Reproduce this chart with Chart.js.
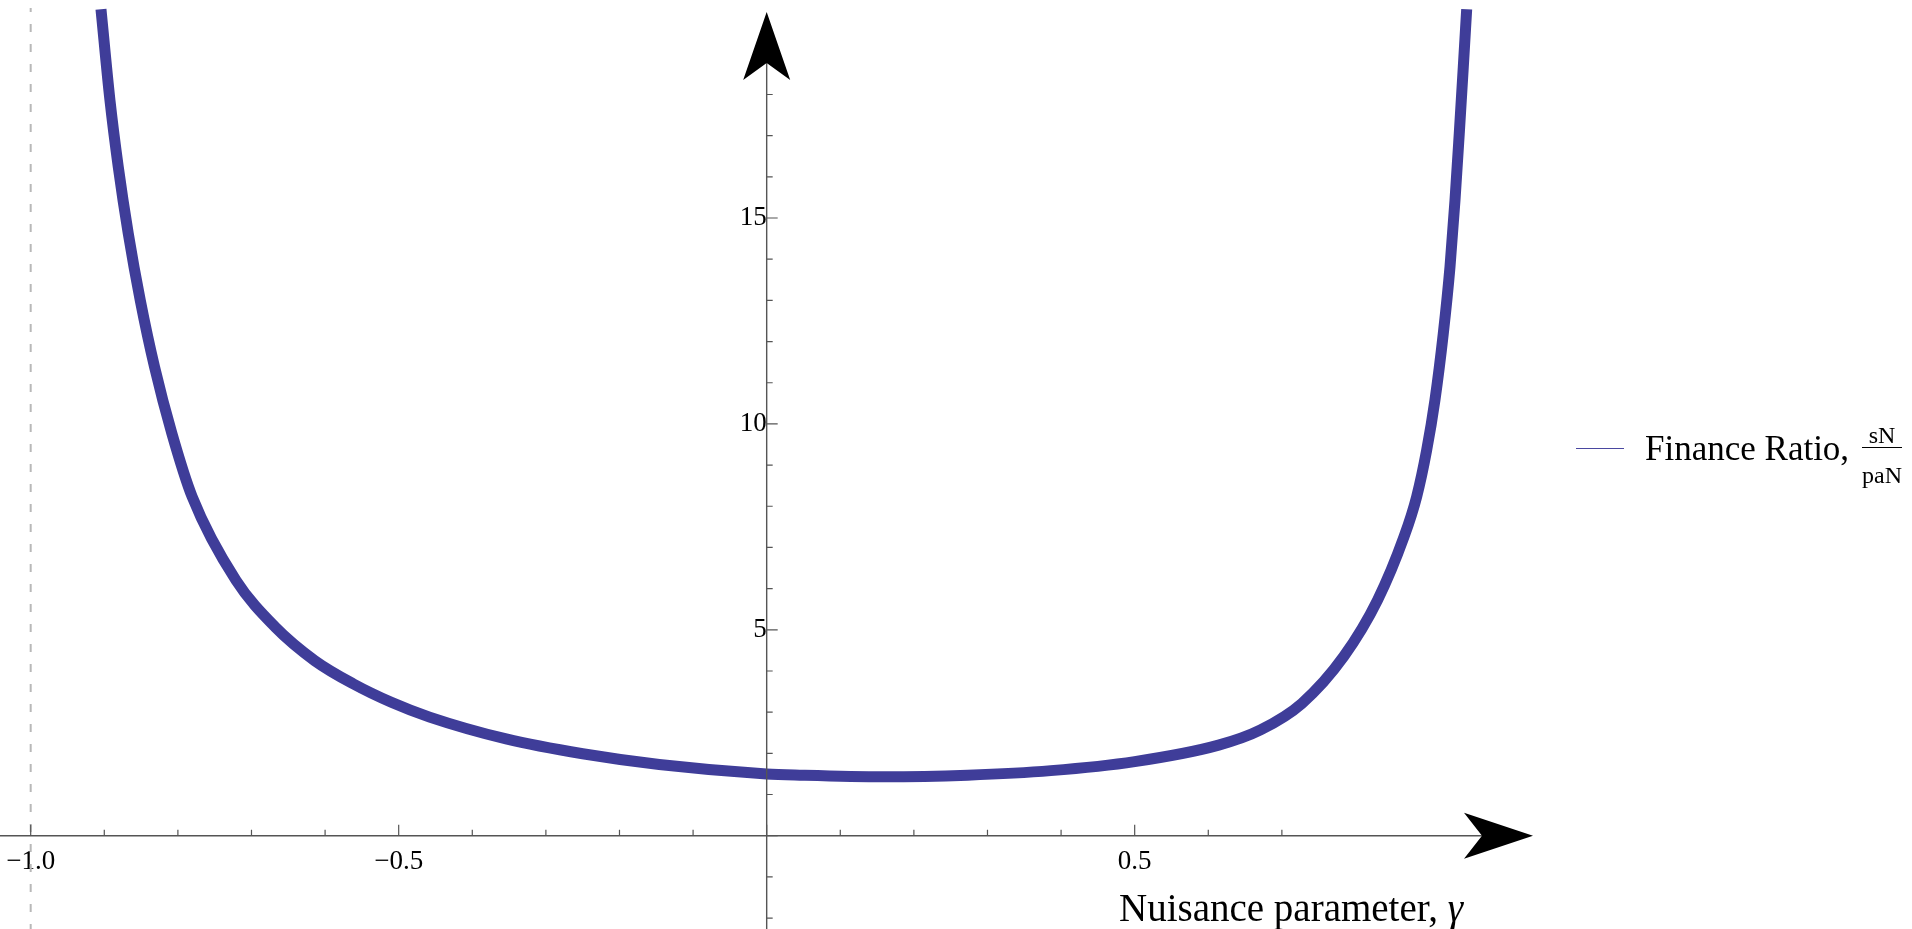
<!DOCTYPE html>
<html>
<head>
<meta charset="utf-8">
<title>Finance Ratio vs Nuisance parameter</title>
<script src="https://cdn.jsdelivr.net/npm/chart.js@4.4.1/dist/chart.umd.min.js"></script>
<style>
  html, body { margin: 0; padding: 0; background: #fff; }
  #wrap {
    position: relative; width: 1912px; height: 929px; overflow: hidden;
    font-family: 'Liberation Serif', 'Times New Roman', serif; color: #000;
  }
  #chart { position: absolute; left: 0; top: 0; }
  .txt { position: absolute; white-space: nowrap; }
  #xtitle { left: 1119px; top: 888px; font-size: 39px; line-height: 39px; }
  #leg-line { position: absolute; left: 1576px; top: 448px; width: 48px; height: 0; border-top: 1.3px solid #4a48a0; }
  #leg-text { left: 1645px; top: 431px; font-size: 35px; line-height: 35px; }
  .frac { font-size: 24px; line-height: 24px; width: 40px; text-align: center; }
  #leg-num { left: 1862px; top: 423px; }
  #leg-bar { position: absolute; left: 1862px; top: 446.5px; width: 40px; height: 0; border-top: 1.2px solid #000; }
  #leg-den { left: 1862px; top: 463px; }
</style>
</head>
<body>
<div id="wrap">
  <canvas id="chart" width="1912" height="929"></canvas>
  <div id="xtitle" class="txt">Nuisance parameter, <i>γ</i></div>
  <div id="leg-line"></div>
  <div id="leg-text" class="txt">Finance Ratio,</div>
  <div id="leg-num" class="txt frac">sN</div>
  <div id="leg-bar"></div>
  <div id="leg-den" class="txt frac">paN</div>
</div>

<script>
'use strict';

/* ── DATA ──────────────────────────────────────────────────── */
const gamma = [
  -0.9045, -0.8923, -0.8810, -0.8674, -0.8511, -0.8317, -0.8082, -0.7806,
  -0.7210, -0.6680, -0.6140, -0.5620, -0.5100, -0.4580, -0.3540, -0.2500,
  -0.1460, 0.0000, 0.0450, 0.1590, 0.2730, 0.3860, 0.5000, 0.6140,
  0.6710, 0.7270, 0.7840, 0.8300, 0.8660, 0.8831, 0.8967, 0.9080,
  0.9193, 0.9284, 0.9352, 0.9410, 0.9465, 0.9511
];
const ratio = [
  20.07, 17.86, 16.24, 14.62, 13.00, 11.38, 9.77, 8.23,
  6.20, 5.07, 4.25, 3.69, 3.24, 2.88, 2.35, 1.99,
  1.73, 1.50, 1.47, 1.43, 1.47, 1.58, 1.80, 2.20,
  2.57, 3.21, 4.35, 5.72, 7.26, 8.23, 9.36, 10.58,
  12.19, 13.81, 15.43, 17.05, 18.67, 20.07
];

// dashed asymptote at gamma = -1
const asymX = [-1, -1];
const asymY = [20.1, -2.27];

// axis ticks
const xMajorTicks = [-1, -0.5, 0, 0.5];
const xMinorTicks = [-0.9, -0.8, -0.7, -0.6, -0.4, -0.3, -0.2, -0.1, 0.1, 0.2, 0.3, 0.4, 0.6, 0.7];
const xTickLabels = [-1, -0.5, 0.5];
const yMajorTicks = [0, 5, 10, 15];
const yMinorTicks = [-2, -1, 1, 2, 3, 4, 6, 7, 8, 9, 11, 12, 13, 14, 16, 17, 18];
const yTickLabels = [5, 10, 15];

/* ── STYLE ─────────────────────────── */
const curveColor = '#3f3d99';
const axisColor  = '#555555';
const serif      = "'Liberation Serif', 'Times New Roman', serif";

const fmtX = v => (v < 0 ? '\u2212' : '') + Math.abs(v).toFixed(1);

// axes sit inside the plot, so they must not take any layout room
const noRoom = s => {
  if (s.isHorizontal()) s.height = 0; else s.width = 0;
  s.paddingTop = s.paddingBottom = s.paddingLeft = s.paddingRight = 0;
};

/* ── AXES WITH ARROWS (Mathematica style) ─────────────────────────── */
const axesPlugin = {
  id: 'mmaAxes',
  afterDatasetsDraw(chart) {
    const { ctx, chartArea: ca, scales: { x, y } } = chart;
    const x0 = x.getPixelForValue(0);
    const y0 = y.getPixelForValue(0);
    const xTip = ca.right;
    const yTip = ca.top + 4;

    ctx.save();
    ctx.strokeStyle = axisColor;
    ctx.lineWidth = 1.4;

    // axis lines
    ctx.beginPath();
    ctx.moveTo(ca.left, y0);   ctx.lineTo(xTip - 40, y0);
    ctx.moveTo(x0, ca.bottom); ctx.lineTo(x0, yTip + 40);
    ctx.stroke();

    // ticks (pointing into the plot)
    ctx.lineWidth = 1.2;
    ctx.beginPath();
    xMajorTicks.forEach(v => { const p = x.getPixelForValue(v); ctx.moveTo(p, y0); ctx.lineTo(p, y0 - 11); });
    xMinorTicks.forEach(v => { const p = x.getPixelForValue(v); ctx.moveTo(p, y0); ctx.lineTo(p, y0 - 6); });
    yMajorTicks.forEach(v => { const p = y.getPixelForValue(v); ctx.moveTo(x0, p); ctx.lineTo(x0 + 11, p); });
    yMinorTicks.forEach(v => { const p = y.getPixelForValue(v); ctx.moveTo(x0, p); ctx.lineTo(x0 + 6, p); });
    ctx.stroke();

    // arrow heads
    ctx.fillStyle = '#000';
    ctx.beginPath();
    ctx.moveTo(xTip, y0);
    ctx.lineTo(xTip - 69, y0 - 23);
    ctx.lineTo(xTip - 51, y0);
    ctx.lineTo(xTip - 69, y0 + 23);
    ctx.closePath();
    ctx.fill();

    ctx.beginPath();
    ctx.moveTo(x0, yTip);
    ctx.lineTo(x0 - 23.5, yTip + 68);
    ctx.lineTo(x0, yTip + 51);
    ctx.lineTo(x0 + 23.5, yTip + 68);
    ctx.closePath();
    ctx.fill();
    ctx.restore();
  },
};

/* ── CHART ─────────────────────────── */
new Chart(document.getElementById('chart'), {
  type: 'line',
  data: {
    datasets: [
      {
        label: 'asymptote',
        data: asymX.map((v, i) => ({ x: v, y: asymY[i] })),
        borderColor: '#b8b8b8',
        borderWidth: 2,
        borderDash: [8, 12],
        borderDashOffset: 4,
        pointRadius: 0,
        tension: 0,
      },
      {
        label: 'Finance Ratio, sN/paN',
        data: gamma.map((g, i) => ({ x: g, y: ratio[i] })),
        borderColor: curveColor,
        borderWidth: 11,
        pointRadius: 0,
        cubicInterpolationMode: 'monotone',
        borderCapStyle: 'butt',
        borderJoinStyle: 'round',
      },
    ],
  },
  options: {
    responsive: false,
    animation: false,
    events: [],
    devicePixelRatio: 1,
    layout: { padding: { top: 8, left: 0, right: 379, bottom: 0 } },
    plugins: {
      legend:  { display: false },
      tooltip: { enabled: false },
    },
    scales: {
      x: {
        type: 'linear',
        position: { y: 0 },
        min: -1.0417,
        max: 1.0412,
        grid:   { display: false, drawTicks: false },
        border: { display: false },
        afterFit: noRoom,
        afterBuildTicks: s => { s.ticks = xTickLabels.map(v => ({ value: v })); },
        ticks: {
          autoSkip: false,
          maxRotation: 0,
          padding: 10,
          color: '#000',
          font: { family: serif, size: 27 },
          callback: v => fmtX(v),
        },
      },
      y: {
        type: 'linear',
        position: { x: 0 },
        min: -2.266,
        max: 20.1,
        grid:   { display: false, drawTicks: false },
        border: { display: false },
        afterFit: noRoom,
        afterBuildTicks: s => { s.ticks = yTickLabels.map(v => ({ value: v })); },
        ticks: {
          autoSkip: false,
          padding: 9,
          color: '#000',
          font: { family: serif, size: 27 },
          callback: v => String(v),
        },
      },
    },
  },
  plugins: [axesPlugin],
});
</script>
</body>
</html>
